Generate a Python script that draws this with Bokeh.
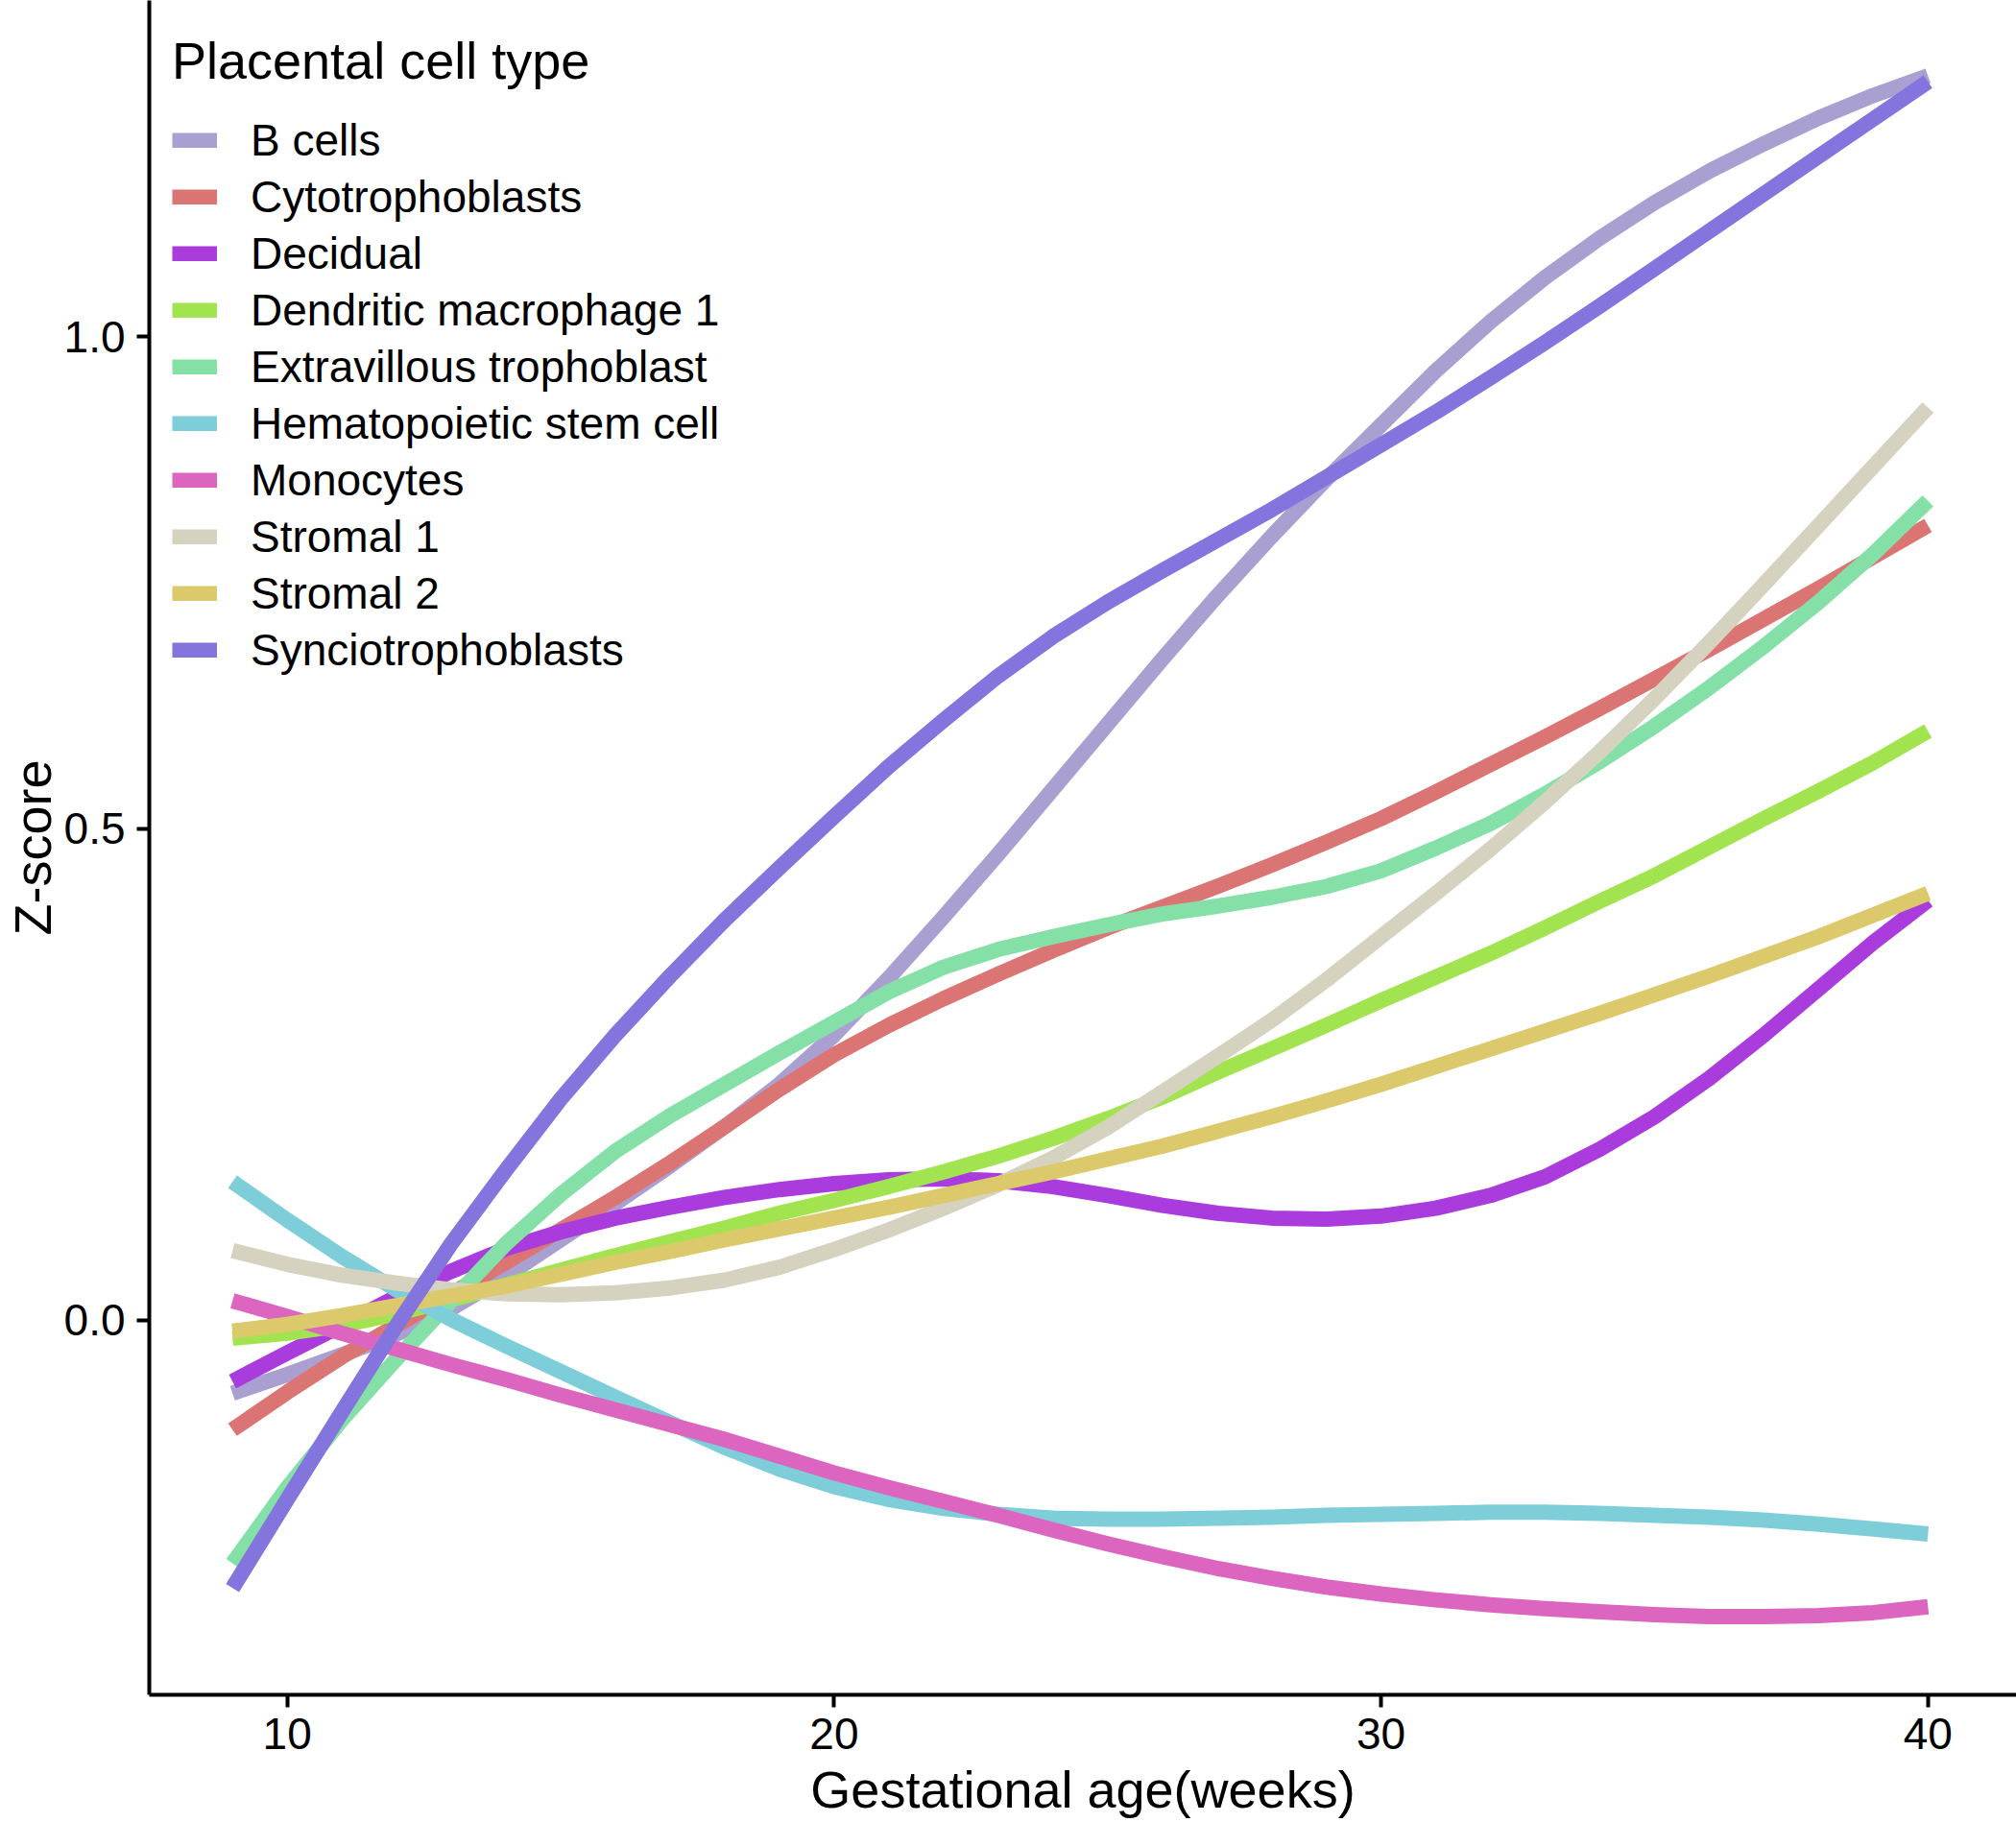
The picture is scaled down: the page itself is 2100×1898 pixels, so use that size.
from bokeh.plotting import figure
from bokeh.models import Range1d, FixedTicker, Legend, LegendItem, PrintfTickFormatter
from bokeh.embed import file_html
from bokeh.resources import INLINE

weeks = list(range(9, 41))

cell_types = ["B cells", "Cytotrophoblasts", "Decidual", "Dendritic macrophage 1",
              "Extravillous trophoblast", "Hematopoietic stem cell", "Monocytes",
              "Stromal 1", "Stromal 2", "Synciotrophoblasts"]

b_cells = [-0.074, -0.055, -0.035, -0.014, 0.012, 0.045, 0.082, 0.119, 0.157, 0.197, 0.240,
           0.290, 0.348, 0.410, 0.474, 0.540, 0.606, 0.672, 0.736, 0.797, 0.855, 0.910,
           0.965, 1.015, 1.060, 1.100, 1.136, 1.168, 1.196, 1.222, 1.245, 1.265]
cytotrophoblasts = [-0.111, -0.073, -0.037, -0.005, 0.027, 0.059, 0.092, 0.125, 0.160, 0.197,
                    0.235, 0.270, 0.300, 0.327, 0.352, 0.376, 0.399, 0.420, 0.441, 0.463,
                    0.486, 0.510, 0.537, 0.565, 0.593, 0.622, 0.652, 0.682, 0.713, 0.744,
                    0.776, 0.808]
decidual = [-0.062, -0.033, -0.005, 0.024, 0.050, 0.073, 0.090, 0.104, 0.115, 0.125, 0.133,
            0.139, 0.143, 0.144, 0.142, 0.136, 0.127, 0.117, 0.109, 0.104, 0.103, 0.106,
            0.114, 0.127, 0.146, 0.174, 0.207, 0.246, 0.290, 0.337, 0.384, 0.427]
dendritic_macrophage_1 = [-0.018, -0.013, -0.005, 0.007, 0.021, 0.036, 0.051, 0.066, 0.080,
                          0.094, 0.109, 0.122, 0.136, 0.151, 0.167, 0.185, 0.205, 0.227,
                          0.252, 0.276, 0.300, 0.325, 0.349, 0.373, 0.399, 0.426, 0.452,
                          0.481, 0.510, 0.538, 0.567, 0.599]
extravillous_trophoblast = [-0.247, -0.170, -0.101, -0.039, 0.020, 0.078, 0.128, 0.172, 0.208,
                            0.240, 0.272, 0.303, 0.334, 0.359, 0.377, 0.390, 0.402, 0.413,
                            0.421, 0.430, 0.441, 0.457, 0.480, 0.505, 0.535, 0.568, 0.604,
                            0.643, 0.685, 0.730, 0.779, 0.833]
hematopoietic_stem_cell = [0.141, 0.102, 0.065, 0.031, 0.001, -0.026, -0.052, -0.078, -0.104,
                           -0.129, -0.151, -0.169, -0.182, -0.191, -0.197, -0.201, -0.202,
                           -0.202, -0.201, -0.200, -0.198, -0.197, -0.196, -0.195, -0.195,
                           -0.196, -0.198, -0.200, -0.203, -0.207, -0.212, -0.217]
monocytes = [0.020, 0.004, -0.013, -0.029, -0.045, -0.060, -0.076, -0.091, -0.106, -0.121,
             -0.138, -0.155, -0.170, -0.184, -0.198, -0.213, -0.227, -0.240, -0.252, -0.262,
             -0.271, -0.278, -0.284, -0.289, -0.293, -0.296, -0.299, -0.301, -0.301, -0.300,
             -0.297, -0.291]
stromal_1 = [0.071, 0.057, 0.046, 0.038, 0.031, 0.027, 0.026, 0.028, 0.033, 0.041, 0.054,
             0.072, 0.092, 0.114, 0.138, 0.165, 0.196, 0.232, 0.268, 0.305, 0.346, 0.390,
             0.434, 0.479, 0.527, 0.578, 0.632, 0.689, 0.748, 0.808, 0.868, 0.928]
stromal_2 = [-0.011, -0.004, 0.005, 0.015, 0.025, 0.035, 0.047, 0.059, 0.070, 0.082, 0.093,
             0.104, 0.115, 0.127, 0.139, 0.151, 0.164, 0.177, 0.192, 0.207, 0.223, 0.240,
             0.258, 0.276, 0.294, 0.312, 0.331, 0.350, 0.370, 0.390, 0.412, 0.434]
synciotrophoblasts = [-0.272, -0.182, -0.093, -0.005, 0.078, 0.153, 0.225, 0.290, 0.350,
                      0.407, 0.460, 0.512, 0.563, 0.610, 0.655, 0.695, 0.730, 0.762, 0.793,
                      0.824, 0.857, 0.890, 0.923, 0.958, 0.994, 1.031, 1.069, 1.107, 1.145,
                      1.183, 1.221, 1.259]

series = [b_cells, cytotrophoblasts, decidual, dendritic_macrophage_1, extravillous_trophoblast,
          hematopoietic_stem_cell, monocytes, stromal_1, stromal_2, synciotrophoblasts]

colors = ["#A9A0D1", "#DB7573", "#AA3CDD", "#A2E450", "#85E0A8",
          "#7ECED9", "#DB65BF", "#D5D2C0", "#DBC96B", "#8474DD"]

x_ticks = [10, 20, 30, 40]
y_ticks = [0.0, 0.5, 1.0]

FONT = "Liberation Sans"

X0, X1 = 7.478, 41.618
Y0, Y1 = -0.3805, 1.3415

p = figure(width=2100, height=1898, output_backend="svg", toolbar_location=None,
           x_range=Range1d(X0, X1), y_range=Range1d(Y0, Y1),
           min_border_left=155, min_border_right=0, min_border_top=0, min_border_bottom=133)

p.background_fill_color = "white"
p.border_fill_color = "white"
p.outline_line_color = None
p.xgrid.visible = False
p.ygrid.visible = False

items = []
for name, vals, col in zip(cell_types, series, colors):
    r = p.line(weeks, vals, line_color=col, line_width=16, line_join="round", line_cap="butt")
    items.append(LegendItem(label=name, renderers=[r]))

for ax in (p.xaxis[0], p.yaxis[0]):
    ax.axis_line_width = 4
    ax.axis_line_color = "black"
    ax.major_tick_line_width = 4
    ax.major_tick_line_color = "black"
    ax.major_tick_out = 13
    ax.major_tick_in = 0
    ax.minor_tick_out = 0
    ax.minor_tick_in = 0
    ax.major_label_text_font = FONT
    ax.major_label_text_font_size = "46px"
    ax.major_label_text_color = "black"
    ax.axis_label_text_font = FONT
    ax.axis_label_text_font_size = "54px"
    ax.axis_label_text_font_style = "normal"
    ax.axis_label_text_color = "black"

p.xaxis.ticker = FixedTicker(ticks=x_ticks, minor_ticks=[])
p.yaxis.ticker = FixedTicker(ticks=y_ticks, minor_ticks=[])
p.yaxis.formatter = PrintfTickFormatter(format="%.1f")
p.xaxis.axis_label = "Gestational age(weeks)"
p.yaxis.axis_label = "Z-score"
p.xaxis.major_label_standoff = 11
p.xaxis.axis_label_standoff = 9
p.yaxis.major_label_standoff = 12
p.yaxis.axis_label_standoff = 0

legend = Legend(items=items, location=(24, 1061), title="Placental cell type",
                title_text_font=FONT, title_text_font_size="54px",
                title_text_font_style="normal", title_text_color="black",
                title_standoff=25,
                label_text_font=FONT, label_text_font_size="46px", label_text_color="black",
                label_standoff=35, label_height=51, glyph_width=47, glyph_height=16,
                spacing=5, padding=0, margin=0,
                border_line_color=None, background_fill_alpha=0)
p.add_layout(legend)

open("out.html", "w").write(file_html(p, INLINE))
